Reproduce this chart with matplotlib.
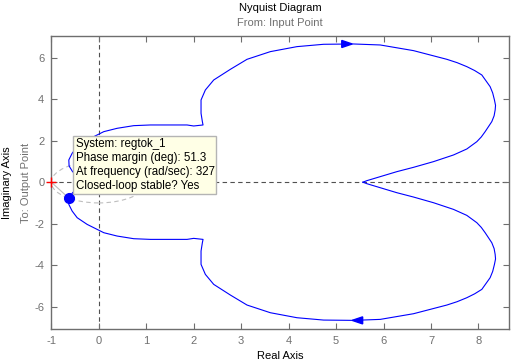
import matplotlib
matplotlib.use("Agg")
import matplotlib.pyplot as plt
from matplotlib.patches import Rectangle, Ellipse, Polygon

# ---- data (upper branch, from the DC cusp to the origin) ----
upper_re = [5.566, 5.650, 5.931, 6.282, 6.632, 7.053, 7.474, 7.755, 7.966, 8.060, 8.141,
            8.281, 8.330, 8.352, 8.360, 8.337, 8.300, 8.246, 8.071, 7.920, 7.755, 7.550,
            7.334, 6.632, 5.931, 5.369, 4.737, 4.176, 3.615, 3.124, 2.773, 2.422, 2.246,
            2.155, 2.155, 2.183, 2.197, 2.000, 1.860, 1.088, 0.737, 0.387, 0.106, -0.034,
            -0.245, -0.455, -0.561, -0.631, -0.625, -0.55, -0.40, -0.20, 0.0]
upper_im = [0.0, 0.074, 0.267, 0.508, 0.716, 0.990, 1.311, 1.600, 1.953, 2.180, 2.435,
            2.917, 3.200, 3.480, 3.700, 3.961, 4.300, 4.604, 5.166, 5.380, 5.568, 5.760,
            5.921, 6.339, 6.612, 6.660, 6.645, 6.532, 6.291, 5.921, 5.439, 4.925, 4.443,
            3.961, 3.319, 2.917, 2.757, 2.708, 2.757, 2.757, 2.724, 2.596, 2.435, 2.275,
            2.034, 1.712, 1.391, 1.070, 0.780, 0.50, 0.28, 0.10, 0.0]
lower_re = upper_re
lower_im = [-v for v in upper_im]

pm_point = (-0.625, -0.780)
critical_point = (-1.0, 0.0)
arrow_top = (5.34, 6.66)      # tip, pointing right
arrow_bottom = (5.34, -6.66)  # tip, pointing left

info_lines = ["System: regtok_1",
              "Phase margin (deg): 51.3",
              "At frequency (rad/sec): 327",
              "Closed-loop stable? Yes"]

xticks = list(range(-1, 9))
yticks = [-6, -4, -2, 0, 2, 4, 6]

# ---- figure ----
plt.rcParams['font.family'] = ['Liberation Sans', 'DejaVu Sans']
plt.rcParams['axes.unicode_minus'] = False
W, H = 513, 363
fig = plt.figure(figsize=(W / 100, H / 100), dpi=100)
ax = fig.add_axes([51.3 / W, 1 - 329.3 / H, (509.3 - 51.3) / W, (329.3 - 36.3) / H])

blue = '#0000FF'
gray_axis = '#6E6E6E'

ax.set_xlim(-1, 8.65)
ax.set_ylim(-7.09, 7.03)

ax.axhline(0, color='#505050', lw=0.8, ls=(0, (4, 3)), zorder=1)
ax.axvline(0, color='#505050', lw=0.8, ls=(0, (4, 3)), zorder=1)

# unit circle and margin line
ax.add_patch(Ellipse((0, 0), 2, 2, fill=False, ec='#BEBEBE', lw=0.8, ls=(0, (4, 3)), zorder=1.5))
ax.plot([critical_point[0], pm_point[0]], [critical_point[1], pm_point[1]],
        color='#BEBEBE', lw=0.8, zorder=1.5)

ax.plot(upper_re, upper_im, color=blue, lw=0.8, zorder=2)
ax.plot(lower_re, lower_im, color=blue, lw=0.8, zorder=2)

# arrowheads
L, Wd = 0.22, 0.17
ax.add_patch(Polygon([[arrow_top[0], arrow_top[1]], [arrow_top[0] - L, arrow_top[1] + Wd],
                      [arrow_top[0] - L, arrow_top[1] - Wd]], closed=True, color=blue, zorder=3))
ax.add_patch(Polygon([[arrow_bottom[0], arrow_bottom[1]], [arrow_bottom[0] + L, arrow_bottom[1] + Wd],
                      [arrow_bottom[0] + L, arrow_bottom[1] - Wd]], closed=True, color=blue, zorder=3))

ax.plot([critical_point[0]], [critical_point[1]], marker='+', color='red', ms=7, mew=1.0,
        zorder=3, clip_on=False)
ax.plot([pm_point[0]], [pm_point[1]], marker='o', color=blue, ms=7, zorder=3)

# ticks / spines
ax.set_xticks(xticks)
ax.set_yticks(yticks)
ax.tick_params(direction='in', length=4, width=0.8, colors=gray_axis, labelsize=8,
               top=True, right=True, pad=5)
for lab in ax.get_xticklabels() + ax.get_yticklabels():
    lab.set_color('#707070')
for s in ax.spines.values():
    s.set_color(gray_axis)
    s.set_linewidth(1.0)

# titles and labels
fig.text(280.3 / W, 1 - 8 / H, "Nyquist Diagram", ha='center', va='center', fontsize=8, color='black')
fig.text(280.3 / W, 1 - 23 / H, "From: Input Point", ha='center', va='center', fontsize=8, color='#707070')
fig.text(280.3 / W, 1 - 356 / H, "Real Axis", ha='center', va='center', fontsize=8, color='black')
fig.text(7 / W, 1 - 182.5 / H, "Imaginary Axis", ha='center', va='center', rotation=90, fontsize=8, color='black')
fig.text(26 / W, 1 - 182.5 / H, "To: Output Point", ha='center', va='center', rotation=90, fontsize=8, color='#707070')

# data tip box
bx0, by0, bx1, by1 = 72.5, 136, 216, 194
ax.add_patch(Rectangle((bx0 / W, 1 - by1 / H), (bx1 - bx0) / W, (by1 - by0) / H,
                       transform=fig.transFigure, facecolor='#FFFFE6', edgecolor='#B4B4B4',
                       lw=1.0, zorder=10, clip_on=False))
for yy, t in zip([144.5, 157.8, 171.6, 185.5], info_lines):
    ax.text(76 / W, 1 - yy / H, t, transform=fig.transFigure, ha='left', va='center',
            fontsize=8.3, color='black', zorder=11)

fig.savefig("out.png", dpi=100)
